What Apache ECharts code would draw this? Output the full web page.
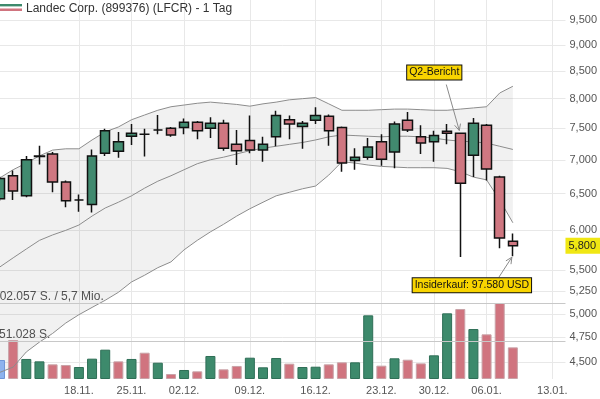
<!DOCTYPE html>
<html>
<head>
<meta charset="utf-8">
<script src="https://cdn.jsdelivr.net/npm/echarts@6/dist/echarts.min.js"></script>
<style>
html, body { margin: 0; padding: 0; background: #fff; }
#chart { width: 600px; height: 399px; }
</style>
</head>
<body>
<div id="chart"></div>
<script>
// Handelstage (Kategorien), letzte zwei ohne Kurse
const dates = ['08.11.', '11.11.', '12.11.', '13.11.', '14.11.', '15.11.', '18.11.', '19.11.', '20.11.', '21.11.',
  '25.11.', '26.11.', '27.11.', '29.11.', '02.12.', '03.12.', '04.12.', '05.12.', '06.12.',
  '09.12.', '10.12.', '11.12.', '12.12.', '13.12.', '16.12.', '17.12.', '18.12.', '19.12.', '20.12.',
  '23.12.', '24.12.', '26.12.', '27.12.', '30.12.', '31.12.', '02.01.', '03.01.',
  '06.01.', '07.01.', '08.01.', '09.01.', '10.01.', '13.01.', '14.01.'];
const tickDates = ['18.11.', '25.11.', '02.12.', '09.12.', '16.12.', '23.12.', '30.12.', '06.01.', '13.01.'];
const priceTicks = [9.5, 9, 8.5, 8, 7.5, 7, 6.5, 6, 5.5, 5.25, 5, 4.75, 4.5];

// Kurse
const opens = [6.43, 6.76, 6.47, 7.05, 7.09, 6.67, 6.41, 6.35, 7.10, 7.13, 7.37, 7.40, 7.47, 7.50, 7.51, 7.60, 7.50, 7.58, 7.24, 7.30,
  7.15, 7.36, 7.64, 7.53, 7.63, 7.70, 7.51, 6.99, 7.04, 7.28, 7.12, 7.63, 7.36, 7.28, 7.45, 7.42, 7.07, 7.55, 6.74, 5.86];
const closes = [6.72, 6.54, 7.00, 7.06, 6.67, 6.40, 6.41, 7.06, 7.46, 7.28, 7.42, 7.40, 7.47, 7.39, 7.60, 7.46, 7.58, 7.18, 7.14, 7.15,
  7.24, 7.71, 7.57, 7.58, 7.71, 7.46, 6.95, 7.04, 7.20, 7.01, 7.57, 7.47, 7.26, 7.38, 7.42, 6.65, 7.58, 6.86, 5.90, 5.80];
const lows = [6.40, 6.41, 6.45, 6.93, 6.52, 6.31, 6.25, 6.24, 7.06, 7.03, 7.23, 7.05, 7.40, 7.36, 7.40, 7.32, 7.34, 7.14, 6.92, 7.10,
  6.97, 7.21, 7.32, 7.17, 7.57, 7.22, 6.82, 6.85, 7.00, 6.91, 6.87, 7.44, 7.09, 6.97, 7.24, 5.66, 6.74, 6.69, 5.77, 5.67];
const highs = [6.75, 6.84, 7.06, 7.22, 7.12, 6.69, 6.49, 7.16, 7.49, 7.44, 7.57, 7.49, 7.72, 7.52, 7.66, 7.62, 7.68, 7.64, 7.47, 7.71,
  7.36, 7.79, 7.71, 7.62, 7.85, 7.73, 7.53, 7.18, 7.34, 7.40, 7.61, 7.77, 7.55, 7.46, 7.57, 7.43, 7.67, 7.57, 6.76, 5.96];

// Umsatz (Stück)
const volumes = [25500, 52400, 26900, 23700, 19700, 18800, 16100, 27300, 39400, 23700, 26900, 35300, 21900, 6700, 12100, 10300,
  30900, 13000, 17500, 28600, 15700, 28200, 20600, 16100, 16500, 19700, 22400, 22400, 85500, 17900, 27800, 25900,
  21000, 31800, 88200, 94000, 67100, 60000, 102057, 42500];
const volumeRefs = [102057, 51028];

// Bollinger-Bänder
const bbUpper = [6.73, 6.85, 6.95, 7.06, 7.15, 7.17, 7.17, 7.31, 7.44, 7.52, 7.64, 7.72, 7.80, 7.86, 7.89, 7.92, 7.94, 7.92, 7.90, 7.87,
  7.91, 7.94, 7.98, 8.00, 8.02, 7.91, 7.80, 7.80, 7.80, 7.81, 7.82, 7.82, 7.81, 7.80, 7.80, 7.82, 7.84, 7.86, 8.10, 8.22];
const bbMiddle = [5.54, 5.65, 5.76, 5.87, 5.94, 6.00, 6.07, 6.19, 6.30, 6.38, 6.47, 6.58, 6.68, 6.76, 6.85, 6.94, 7.00, 7.04, 7.09, 7.14,
  7.18, 7.21, 7.24, 7.27, 7.31, 7.36, 7.39, 7.38, 7.37, 7.36, 7.37, 7.37, 7.36, 7.34, 7.31, 7.29, 7.28, 7.26, 7.21, 7.16];
const bbLower = [4.40, 4.45, 4.60, 4.70, 4.79, 4.90, 4.99, 5.07, 5.15, 5.24, 5.36, 5.44, 5.53, 5.60, 5.75, 5.87, 5.98, 6.08, 6.19, 6.29,
  6.38, 6.47, 6.52, 6.57, 6.61, 6.77, 6.97, 6.95, 6.92, 6.90, 6.89, 6.88, 6.88, 6.88, 6.87, 6.82, 6.74, 6.70, 6.41, 6.10];

const q2Index = 35;
const insiderIndex = 39;

const fontFamily = '"Liberation Sans", Arial, sans-serif';
const upColor = '#418a6f';
const downColor = '#cf7781';
const gridColor = '#e8e8e8';

const fmtPrice = v => v.toFixed(3).replace('.', ',');
const fmtShares = n => String(n).replace(/\B(?=(\d{3})+(?!\d))/g, '.');
const isTick = (i, v) => tickDates.indexOf(v) > -1;

const chart = echarts.init(document.getElementById('chart'));

const volumeData = volumes.map((v, i) => {
  let c = i === 0 ? '#8db3ee' : (closes[i] >= closes[i - 1] ? '#3d8a6c' : '#d0747f');
  let b = i === 0 ? '#6f96d6' : (closes[i] >= closes[i - 1] ? '#2f6f57' : '#c9a3a8');
  return { value: v, itemStyle: { color: c, borderColor: b, borderWidth: 1 } };
});

const option = {
  animation: false,
  textStyle: { fontFamily: fontFamily },
  grid: { left: -2.5, right: 33, top: 0, bottom: 20 },
  xAxis: {
    type: 'category',
    data: dates,
    boundaryGap: false,
    axisLine: { show: false },
    axisTick: { show: false },
    axisLabel: { interval: isTick, color: '#555', fontSize: 11, margin: 6 },
    splitLine: { show: true, interval: isTick, lineStyle: { color: gridColor } }
  },
  yAxis: [
    {
      type: 'log',
      min: 4.336,
      max: 9.925,
      position: 'right',
      axisLine: { show: false },
      axisTick: { show: false, customValues: priceTicks },
      axisLabel: { customValues: priceTicks, formatter: fmtPrice, color: '#555', fontSize: 11, margin: 4 },
      splitLine: { show: true, lineStyle: { color: gridColor } }
    },
    {
      type: 'value',
      min: 0,
      max: 508942,
      show: false,
      splitLine: { show: false }
    }
  ],
  series: [
    {
      // Fläche zwischen den Bändern
      type: 'custom',
      silent: true,
      z: 1,
      data: bbUpper.map((u, i) => [i, u, bbLower[i]]),
      encode: { x: 0, y: [1, 2] },
      renderItem: function (params, api) {
        if (params.dataIndex !== 0) return;
        const top = [];
        const bot = [];
        for (let i = 0; i < bbUpper.length; i++) {
          top.push(api.coord([i, bbUpper[i]]));
          bot.unshift(api.coord([i, bbLower[i]]));
        }
        return { type: 'polygon', shape: { points: top.concat(bot) }, style: { fill: 'rgba(0,0,0,0.055)' } };
      }
    },
    {
      type: 'bar',
      yAxisIndex: 1,
      data: volumeData,
      barWidth: 10,
      z: 2,
      silent: true,
      markLine: {
        silent: true,
        symbol: ['none', 'none'],
        label: { show: false },
        lineStyle: { color: '#c8c8c8', width: 1, type: 'solid' },
        data: volumeRefs.map(v => ({ yAxis: v }))
      }
    },
    { type: 'line', data: bbUpper, symbol: 'none', silent: true, z: 3, lineStyle: { color: '#8c8c8c', width: 1 } },
    { type: 'line', data: bbMiddle, symbol: 'none', silent: true, z: 3, lineStyle: { color: '#8c8c8c', width: 1 } },
    { type: 'line', data: bbLower, symbol: 'none', silent: true, z: 3, lineStyle: { color: '#8c8c8c', width: 1 } },
    {
      type: 'candlestick',
      z: 4,
      barWidth: 10,
      data: opens.map((o, i) => [o, closes[i], lows[i], highs[i]]),
      itemStyle: {
        color: upColor,
        color0: downColor,
        borderColor: '#111',
        borderColor0: '#111',
        borderColorDoji: '#111',
        borderWidth: 1.5
      },
      markLine: {
        silent: true,
        symbol: ['none', 'none'],
        lineStyle: { color: 'rgba(0,0,0,0)', width: 1 },
        label: {
          show: true,
          position: 'end',
          distance: 0,
          formatter: p => fmtPrice(p.value),
          backgroundColor: '#f0e713',
          color: '#222',
          fontSize: 11,
          padding: [3, 4, 2, 3]
        },
        data: [{ yAxis: closes[closes.length - 1] }]
      }
    }
  ]
};
chart.setOption(option);

function arrow(x1, y1, x2, y2) {
  const a = Math.atan2(y2 - y1, x2 - x1);
  const L = 7, w = 0.45;
  const st = { stroke: '#8a8a8a', lineWidth: 1, fill: null };
  return [
    { type: 'line', shape: { x1: x1, y1: y1, x2: x2, y2: y2 }, style: st, z: 10 },
    { type: 'polyline', shape: { points: [
      [x2 - L * Math.cos(a - w), y2 - L * Math.sin(a - w)], [x2, y2],
      [x2 - L * Math.cos(a + w), y2 - L * Math.sin(a + w)]] }, style: st, z: 10 }
  ];
}
function box(text, x, y) {
  return {
    type: 'text', x: x, y: y, z: 11,
    style: {
      text: text, fill: '#111', font: '10.5px ' + fontFamily, align: 'center', verticalAlign: 'middle',
      backgroundColor: '#f8d400', borderColor: '#111', borderWidth: 1, padding: [2, 2, 1, 2]
    }
  };
}

const q2 = chart.convertToPixel({ seriesIndex: 5 }, [q2Index, highs[q2Index]]);
const ins = chart.convertToPixel({ seriesIndex: 5 }, [insiderIndex, lows[insiderIndex]]);
const q2Tip = [q2[0] - 1, q2[1] - 2];
const insTip = [ins[0] - 1, ins[1] + 1];

const graphics = [
  { type: 'rect', shape: { x: 0, y: 4, width: 22, height: 2 }, style: { fill: '#3d8a6c' } },
  { type: 'rect', shape: { x: 0, y: 6, width: 22, height: 1 }, style: { fill: '#b6d2c6' } },
  { type: 'rect', shape: { x: 0, y: 8, width: 22, height: 1 }, style: { fill: '#eab9be' } },
  { type: 'rect', shape: { x: 0, y: 9, width: 22, height: 2 }, style: { fill: '#d0747f' } },
  { type: 'text', x: 26, y: 9, style: { text: 'Landec Corp. (899376) (LFCR) - 1 Tag', fill: '#333', font: '12px ' + fontFamily, verticalAlign: 'middle' } },
  { type: 'text', x: -7, y: 297, style: { text: fmtShares(volumeRefs[0]) + ' S. / 5,7 Mio.', fill: '#555', font: '12px ' + fontFamily, verticalAlign: 'middle' } },
  { type: 'text', x: -1, y: 335, style: { text: fmtShares(volumeRefs[1]) + ' S.', fill: '#555', font: '12px ' + fontFamily, verticalAlign: 'middle' } }
].concat(arrow(q2Tip[0] - 13, q2Tip[1] - 46, q2Tip[0], q2Tip[1]))
 .concat([box('Q2-Bericht', q2Tip[0] - 25, q2Tip[1] - 58)])
 .concat(arrow(insTip[0] - 13, insTip[1] + 20, insTip[0], insTip[1]))
 .concat([box('Insiderkauf: 97.580 USD', insTip[0] - 40, insTip[1] + 28)]);

chart.setOption({ graphic: graphics });
</script>
</body>
</html>
